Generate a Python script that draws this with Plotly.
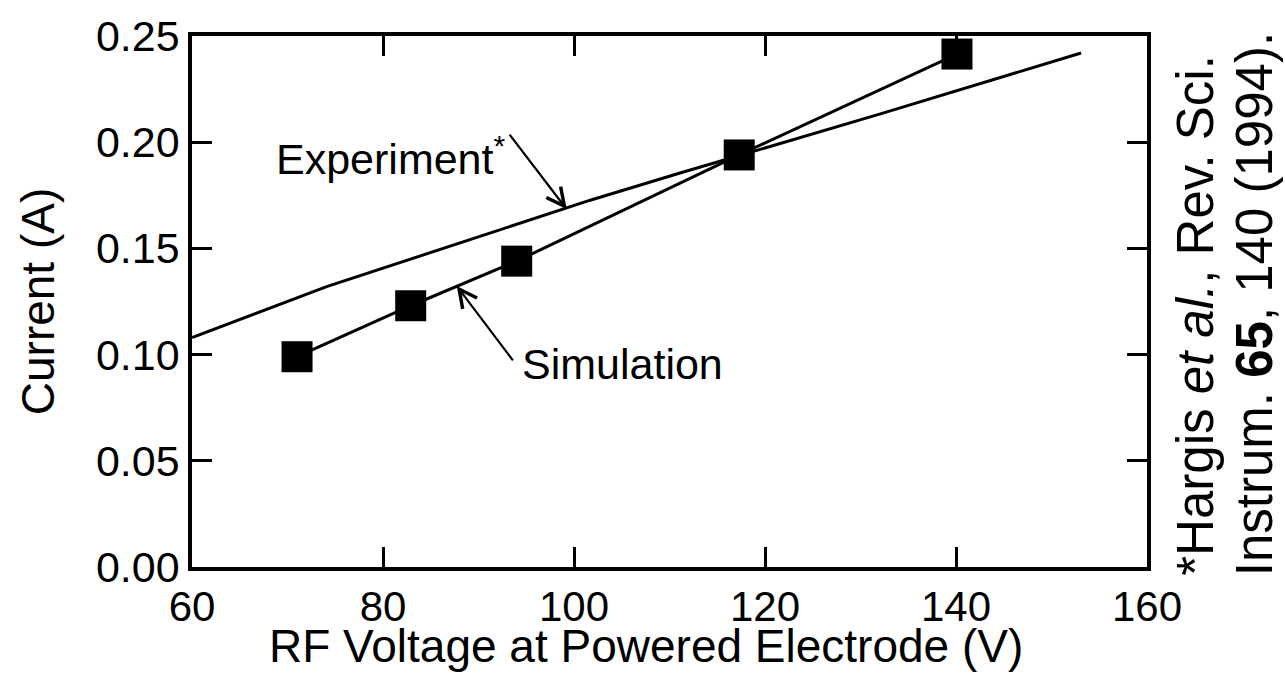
import plotly.graph_objects as go

# Simulated discharge current at each RF voltage
sim_voltage = [71.0, 82.9, 94.0, 117.3, 140.1]
sim_current = [0.099, 0.123, 0.144, 0.194, 0.2415]

# Measured current-voltage characteristic (Hargis et al.)
exp_voltage = [60.0, 74.1, 101.7, 111.1, 132.0, 153.1]
exp_current = [0.108, 0.132, 0.1727, 0.1855, 0.2132, 0.242]

x_ticks = [60, 80, 100, 120, 140, 160]
y_ticks = [0.00, 0.05, 0.10, 0.15, 0.20, 0.25]

FONT = "Arial, Liberation Sans, Helvetica, sans-serif"
INK = "black"

fig = go.Figure()

fig.add_trace(go.Scatter(
    x=exp_voltage, y=exp_current, mode="lines",
    line=dict(color=INK, width=3), cliponaxis=False, showlegend=False,
))
fig.add_trace(go.Scatter(
    x=sim_voltage, y=sim_current, mode="lines+markers",
    line=dict(color=INK, width=3),
    marker=dict(symbol="square", size=31, color=INK, line=dict(width=0)),
    cliponaxis=False, showlegend=False,
))

axis_common = dict(
    showline=True, linecolor=INK, linewidth=3.5, mirror="ticks",
    ticks="inside", ticklen=20, tickwidth=3, tickcolor=INK,
    showgrid=False, zeroline=False,
)

fig.update_xaxes(
    range=[60, 160], tickvals=x_ticks, ticktext=[str(v) for v in x_ticks],
    tickfont=dict(family=FONT, size=42, color=INK),
    **axis_common,
)
fig.update_yaxes(
    range=[0, 0.25], tickvals=y_ticks, ticktext=[f"{v:.2f}" for v in y_ticks],
    tickfont=dict(family=FONT, size=43, color=INK),
    title_text="Current (A)", title_standoff=28,
    title_font=dict(family=FONT, size=46, color=INK),
    **axis_common,
)

# Horizontal axis title, set slightly left of the plot centre
fig.add_annotation(
    x=0.4754, y=-0.149, xref="paper", yref="paper",
    text="RF Voltage at Powered Electrode (V)", showarrow=False,
    xanchor="center", yanchor="middle",
    font=dict(family=FONT, size=46, color=INK),
)

# Labels and pointer arrows
fig.add_annotation(
    x=93.0, y=0.1935, xref="x", yref="y", text="Experiment<sup>*</sup>",
    showarrow=False, xanchor="right", yanchor="middle",
    font=dict(family=FONT, size=43, color=INK),
)
fig.add_annotation(
    x=99.24, y=0.1684, ax=93.14, ay=0.2043, xref="x", yref="y",
    axref="x", ayref="y", text="", showarrow=True,
    arrowhead=5, arrowsize=1.6, arrowwidth=2.2, arrowcolor=INK, standoff=0,
)
fig.add_annotation(
    x=94.3, y=0.0955, xref="x", yref="y", text="Simulation",
    showarrow=False, xanchor="left", yanchor="middle",
    font=dict(family=FONT, size=43, color=INK),
)
fig.add_annotation(
    x=87.72, y=0.1323, ax=93.72, ay=0.0966, xref="x", yref="y",
    axref="x", ayref="y", text="", showarrow=True,
    arrowhead=5, arrowsize=1.6, arrowwidth=2.2, arrowcolor=INK, standoff=0,
)

# Literature reference written up the right side, one annotation per line
citation_lines = [
    "*Hargis <i>et al.</i>, Rev. Sci.",
    "Instrum. <b>65</b>, 140 (1994).",
]
for line_text, x_pos in zip(citation_lines, [1.0514, 1.1121]):
    fig.add_annotation(
        x=x_pos, y=-0.021, xref="paper", yref="paper",
        text=line_text, textangle=-90, showarrow=False,
        xanchor="center", yanchor="bottom",
        font=dict(family=FONT, size=51, color=INK),
    )

fig.update_layout(
    width=1285, height=673,
    margin=dict(l=192, r=138, t=31, b=106),
    paper_bgcolor="white", plot_bgcolor="white",
    showlegend=False,
)

fig.write_html("out.html")
